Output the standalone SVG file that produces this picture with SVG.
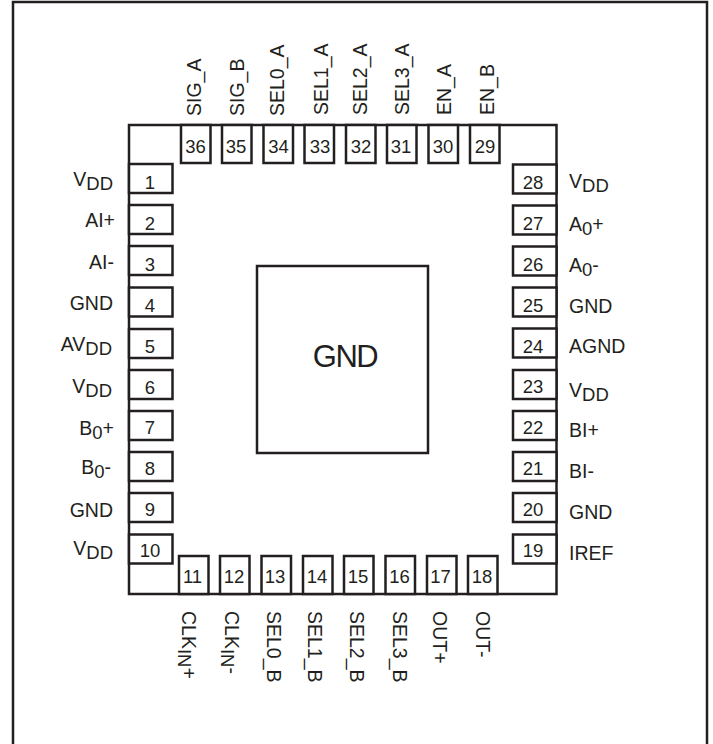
<svg xmlns="http://www.w3.org/2000/svg" width="713" height="744" viewBox="0 0 713 744">
<style>
rect{fill:#fff;stroke:#231f20;stroke-width:2.5}
text{font-family:"Liberation Sans",Arial,sans-serif;font-size:19.5px;fill:#231f20}
.n{font-size:18.500px;text-anchor:middle}
.l{text-anchor:end}
.s{font-size:18.5px}
</style>
<rect id="frame" x="13" y="2" width="694" height="760"/>
<rect id="package" x="129" y="125" width="427.500" height="469"/>
<g id="pad"><rect x="257" y="266" width="171" height="187"/><text x="345" y="366.500" text-anchor="middle" style="font-size:31px;letter-spacing:-1.500px">GND</text></g>
<g id="connectors"/>
<g id="pin1"><rect x="129" y="164" width="43.500" height="29"/><text class="n" x="150" y="189">1</text><text class="l" x="113" y="186">V<tspan class="s" dy="4">DD</tspan></text></g>
<g id="pin2"><rect x="129" y="205" width="43.500" height="29"/><text class="n" x="150" y="230">2</text><text class="l" x="115" y="227">AI+</text></g>
<g id="pin3"><rect x="129" y="246" width="43.500" height="29"/><text class="n" x="150" y="271">3</text><text class="l" x="114" y="269">AI-</text></g>
<g id="pin4"><rect x="129" y="287.500" width="43.500" height="29"/><text class="n" x="150" y="312">4</text><text class="l" x="113" y="310">GND</text></g>
<g id="pin5"><rect x="129" y="329" width="43.500" height="29"/><text class="n" x="150" y="353">5</text><text class="l" x="112" y="351">AV<tspan class="s" dy="4">DD</tspan></text></g>
<g id="pin6"><rect x="129" y="370" width="43.500" height="29"/><text class="n" x="150" y="394">6</text><text class="l" x="112" y="393">V<tspan class="s" dy="4">DD</tspan></text></g>
<g id="pin7"><rect x="129" y="411" width="43.500" height="29"/><text class="n" x="150" y="434">7</text><text class="l" x="114" y="435">B<tspan class="s" dy="4">0</tspan><tspan dy="-4">+</tspan></text></g>
<g id="pin8"><rect x="129" y="452" width="43.500" height="29"/><text class="n" x="150" y="475">8</text><text class="l" x="111" y="474">B<tspan class="s" dy="4">0</tspan><tspan dy="-4">-</tspan></text></g>
<g id="pin9"><rect x="129" y="493" width="43.500" height="29"/><text class="n" x="150" y="516">9</text><text class="l" x="113" y="517">GND</text></g>
<g id="pin10"><rect x="129" y="534.500" width="43.500" height="29"/><text class="n" x="150" y="557">10</text><text class="l" x="113" y="555">V<tspan class="s" dy="4">DD</tspan></text></g>
<g id="pin11"><rect x="179" y="556" width="29.500" height="38"/><text class="n" x="192.500" y="583">11</text><text transform="translate(182,611) rotate(90)">CLK<tspan class="s" dy="4">IN</tspan><tspan dy="-4">+</tspan></text></g>
<g id="pin12"><rect x="220" y="556" width="29.500" height="38"/><text class="n" x="234" y="583">12</text><text transform="translate(225,611) rotate(90)">CLK<tspan class="s" dy="4">IN</tspan><tspan dy="-4">-</tspan></text></g>
<g id="pin13"><rect x="261.500" y="556" width="29.500" height="38"/><text class="n" x="275" y="583">13</text><text transform="translate(267,611) rotate(90)">SEL0_B</text></g>
<g id="pin14"><rect x="303" y="556" width="29.500" height="38"/><text class="n" x="317" y="583">14</text><text transform="translate(308,611) rotate(90)">SEL1_B</text></g>
<g id="pin15"><rect x="344" y="556" width="29.500" height="38"/><text class="n" x="358" y="583">15</text><text transform="translate(350,611) rotate(90)">SEL2_B</text></g>
<g id="pin16"><rect x="385.500" y="556" width="29.500" height="38"/><text class="n" x="399.500" y="583">16</text><text transform="translate(393,611) rotate(90)">SEL3_B</text></g>
<g id="pin17"><rect x="427" y="556" width="29.500" height="38"/><text class="n" x="440.500" y="583">17</text><text transform="translate(433,611) rotate(90)">OUT+</text></g>
<g id="pin18"><rect x="468" y="556" width="29.500" height="38"/><text class="n" x="482" y="583">18</text><text transform="translate(476,611) rotate(90)">OUT-</text></g>
<g id="pin19"><rect x="513" y="534.500" width="43.500" height="29"/><text class="n" x="533" y="557">19</text><text x="569" y="560">IREF</text></g>
<g id="pin20"><rect x="513" y="493" width="43.500" height="29"/><text class="n" x="533" y="516">20</text><text x="569" y="519">GND</text></g>
<g id="pin21"><rect x="513" y="452" width="43.500" height="29"/><text class="n" x="533" y="475">21</text><text x="569" y="478">BI-</text></g>
<g id="pin22"><rect x="513" y="411" width="43.500" height="29"/><text class="n" x="533" y="434">22</text><text x="569" y="437">BI+</text></g>
<g id="pin23"><rect x="513" y="370" width="43.500" height="29"/><text class="n" x="533" y="393">23</text><text x="569" y="397">V<tspan class="s" dy="4">DD</tspan></text></g>
<g id="pin24"><rect x="513" y="328.500" width="43.500" height="29"/><text class="n" x="533" y="353">24</text><text x="569" y="353">AGND</text></g>
<g id="pin25"><rect x="513" y="287.500" width="43.500" height="29"/><text class="n" x="533" y="312">25</text><text x="569" y="313">GND</text></g>
<g id="pin26"><rect x="513" y="246.500" width="43.500" height="29"/><text class="n" x="533" y="271">26</text><text x="569" y="272">A<tspan class="s" dy="4">0</tspan><tspan dy="-4">-</tspan></text></g>
<g id="pin27"><rect x="513" y="205.500" width="43.500" height="29"/><text class="n" x="533" y="230">27</text><text x="569" y="231">A<tspan class="s" dy="4">0</tspan><tspan dy="-4">+</tspan></text></g>
<g id="pin28"><rect x="513" y="164.500" width="43.500" height="29"/><text class="n" x="533" y="189">28</text><text x="569" y="188">V<tspan class="s" dy="4">DD</tspan></text></g>
<g id="pin29"><rect x="470" y="125" width="29.500" height="38"/><text class="n" x="485" y="153">29</text><text transform="translate(494,115) rotate(-90)">EN_B</text></g>
<g id="pin30"><rect x="428.500" y="125" width="29.500" height="38"/><text class="n" x="443" y="153">30</text><text transform="translate(451,115) rotate(-90)">EN_A</text></g>
<g id="pin31"><rect x="387" y="125" width="29.500" height="38"/><text class="n" x="401" y="153">31</text><text transform="translate(409,115) rotate(-90)">SEL3_A</text></g>
<g id="pin32"><rect x="346" y="125" width="29.500" height="38"/><text class="n" x="361" y="153">32</text><text transform="translate(367,115) rotate(-90)">SEL2_A</text></g>
<g id="pin33"><rect x="304.500" y="125" width="29.500" height="38"/><text class="n" x="320" y="153">33</text><text transform="translate(328,115) rotate(-90)">SEL1_A</text></g>
<g id="pin34"><rect x="263.500" y="125" width="29.500" height="38"/><text class="n" x="278.500" y="153">34</text><text transform="translate(284,116) rotate(-90)">SEL0_A</text></g>
<g id="pin35"><rect x="222" y="125" width="29.500" height="38"/><text class="n" x="236" y="153">35</text><text transform="translate(244,116) rotate(-90)">SIG_B</text></g>
<g id="pin36"><rect x="181" y="125" width="29.500" height="38"/><text class="n" x="195.500" y="153">36</text><text transform="translate(201,116) rotate(-90)">SIG_A</text></g>
</svg>
